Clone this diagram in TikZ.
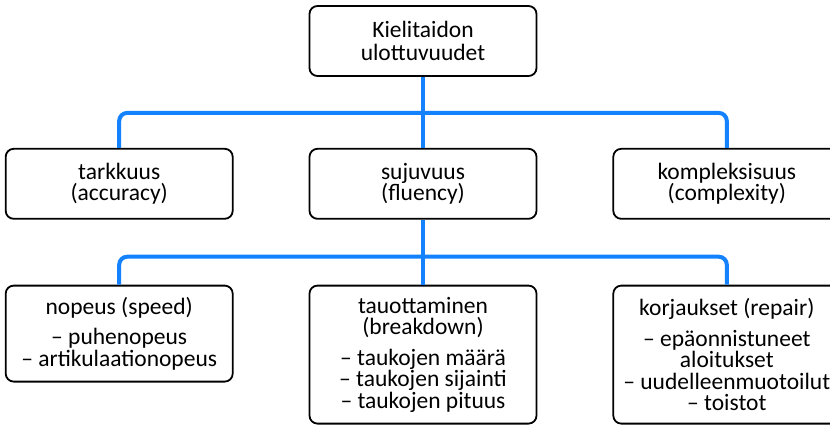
\documentclass[tikz,border=0pt]{standalone}
\usepackage{fontspec}
\setmainfont{Carlito}
\usepackage{tikz}
\usetikzlibrary{positioning}
\definecolor{linkblue}{RGB}{20,130,255}

\begin{document}
\begin{tikzpicture}[x=1pt,y=1pt,node distance=75pt,
                    link/.style={draw=linkblue,line width=4pt,rounded corners=8pt}]
                \tikzstyle{box}=[draw=black,fill=white,line width=1.8pt,rounded corners=8pt,
                                 align=center,minimum width=227pt,inner xsep=0pt,inner ysep=0pt,
                                 font=\fontsize{23.5}{21.5}\selectfont]
                \useasboundingbox (0,0) rectangle (830,-426);

                % top and first level
                \node[box, minimum height=70pt]     (K) at (423,-41)        {Kielitaidon\\[2pt]ulottuvuudet};
                \node[box, minimum height=70pt]     (F) [below=71pt of K]   {sujuvuus\\(fluency)};
                \node[box, minimum height=70pt]     (A) [left=of F]         {tarkkuus\\(accuracy)};
                \node[box, minimum height=70pt]     (C) [right=of F]        {kompleksisuus\\(complexity)};

                % second level
                \node[box, minimum height=96pt]     (N) [below=65pt of A]   {nopeus (speed)\\[9pt]– puhenopeus\\– artikulaationopeus};
                \node[box, minimum height=138pt]    (P) [below=65pt of F]   {tauottaminen\\(breakdown)\\[9pt]– taukojen määrä\\– taukojen sijainti\\– taukojen pituus};
                \node[box, minimum height=138pt]    (R) [below=65pt of C]   {korjaukset (repair)\\[9pt]– epäonnistuneet\\aloitukset\\– uudelleenmuotoilut\\– toistot};

                \coordinate (f1) at ([yshift=35pt]F.north);
                \coordinate (f2) at ([yshift=28pt]P.north);

                \draw[link] (A.north) |- (f1) -| (C.north);
                \draw[link] (K.south) -- (F.north);
                \draw[link] (N.north) |- (f2) -| (R.north);
                \draw[link] (F.south) -- (P.north);
            \end{tikzpicture}
\end{document}
